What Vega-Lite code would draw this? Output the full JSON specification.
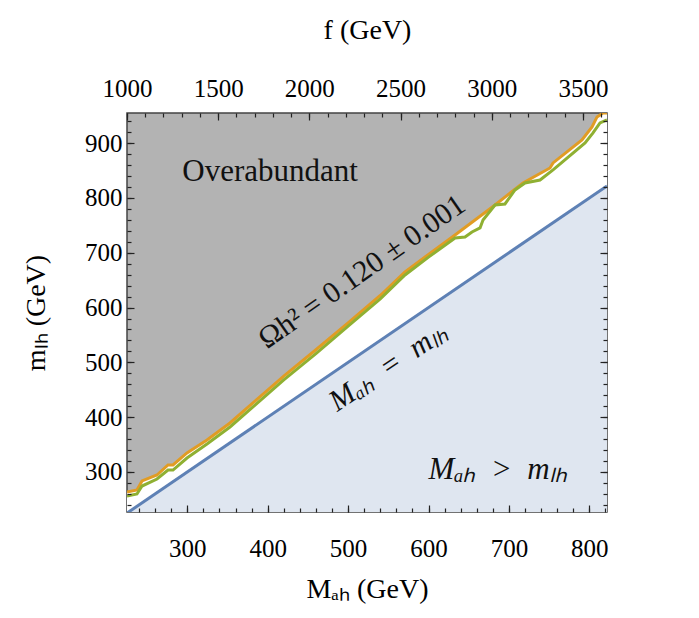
{
  "$schema": "https://vega.github.io/schema/vega-lite/v6.json",
  "width": 480,
  "height": 399,
  "autosize": "none",
  "padding": {"left": 127, "top": 113, "right": 92, "bottom": 106},
  "background": "white",
  "config": {
    "view": {"fill": "#b3b3b3", "stroke": "#444444", "strokeWidth": 1.5},
    "axis": {"grid": false, "domain": false, "ticks": true, "zindex": 3, "labelFlush": false, "format": "d", "tickColor": "#222222", "tickOpacity": 1, "tickWidth": 1.2, "labelFont": "Liberation Serif", "labelFontSize": 25, "labelColor": "#000000", "titleFont": "Liberation Serif", "titleFontSize": 28, "titleFontWeight": "normal", "titleColor": "#000000"}
  },
  "datasets": {
    "orange": [
      {"M": 225, "m": 263.5}, {"M": 237.4, "m": 267.1}, {"M": 243.7, "m": 283.6}, {"M": 262.3, "m": 294.5},
      {"M": 276.0, "m": 312.8}, {"M": 282.2, "m": 312.8}, {"M": 299.6, "m": 334.7}, {"M": 324.5, "m": 358.4},
      {"M": 353.1, "m": 389.4}, {"M": 381.7, "m": 425.9}, {"M": 420, "m": 475}, {"M": 460, "m": 523},
      {"M": 500, "m": 572}, {"M": 540, "m": 622}, {"M": 570.8, "m": 665.0}, {"M": 600, "m": 697},
      {"M": 633.0, "m": 732.5}, {"M": 682.7, "m": 787.2}, {"M": 717.5, "m": 827.4}, {"M": 751.1, "m": 854.7},
      {"M": 754.9, "m": 863.9}, {"M": 790.9, "m": 905.8}, {"M": 803.4, "m": 929.6}, {"M": 809.6, "m": 947.8},
      {"M": 817.0, "m": 955}, {"M": 822, "m": 955}
    ],
    "green": [
      {"M": 225, "m": 256.2}, {"M": 237.4, "m": 259.8}, {"M": 243.7, "m": 274.4}, {"M": 262.3, "m": 287.2},
      {"M": 276.0, "m": 303.6}, {"M": 282.2, "m": 303.6}, {"M": 299.6, "m": 325.5}, {"M": 324.5, "m": 351.1},
      {"M": 353.1, "m": 382.1}, {"M": 381.7, "m": 418.6}, {"M": 420, "m": 468}, {"M": 460, "m": 516},
      {"M": 500, "m": 566}, {"M": 540, "m": 616}, {"M": 570.8, "m": 659.5}, {"M": 600, "m": 692},
      {"M": 633.0, "m": 727.0}, {"M": 645.4, "m": 728.8}, {"M": 654.1, "m": 738.0}, {"M": 664.1, "m": 745.3},
      {"M": 667.8, "m": 759.8}, {"M": 682.7, "m": 787.2}, {"M": 695.1, "m": 789.0}, {"M": 707.6, "m": 814.6},
      {"M": 720.0, "m": 827.4}, {"M": 738.7, "m": 832.8}, {"M": 754.9, "m": 851.1}, {"M": 794.7, "m": 900.4},
      {"M": 804.6, "m": 918.6}, {"M": 813.3, "m": 936.9}, {"M": 822, "m": 942.3}
    ],
    "diag": [{"M": 225, "m": 225}, {"M": 822, "m": 822}],
    "fscale": [{"f": 1000}, {"f": 3632}],
    "notes": [
      {"M": 402.9, "m": 847, "label": "Overabundant", "kind": "over"},
      {"M": 517.3, "m": 665, "label": "Ωh² = 0.120 ± 0.001", "kind": "omega"},
      {"M": 549.6, "m": 491.6, "label": "Mₐₕ\u2002=\u2002mₗₕ", "kind": "eq"},
      {"M": 686, "m": 303.6, "label": "Mₐₕ\u2002>\u2002mₗₕ", "kind": "gt"}
    ]
  },
  "resolve": {"scale": {"x": "independent", "y": "independent"}},
  "layer": [
    {
      "data": {"name": "orange"},
      "mark": {"type": "area", "color": "white", "clip": true},
      "encoding": {
        "x": {"field": "M", "type": "quantitative", "scale": {"domain": [225, 822], "nice": false, "zero": false},
          "axis": {"orient": "bottom", "tickCount": 6, "ticks": true, "zindex": 3, "offset": -7, "tickSize": 7, "labelPadding": 24, "title": "Mₐₕ (GeV)", "titlePadding": 14}},
        "y": {"field": "m", "type": "quantitative", "scale": {"domain": [227, 955], "nice": false, "zero": false},
          "axis": {"orient": "left", "tickCount": 7, "ticks": true, "zindex": 3, "tickSize": -7, "labelPadding": 12, "title": "mₗₕ (GeV)", "titlePadding": 34}}
      }
    },
    {
      "data": {"name": "diag"},
      "mark": {"type": "area", "color": "#dfe6f0", "clip": true},
      "encoding": {
        "x": {"field": "M", "type": "quantitative", "scale": {"domain": [225, 822], "nice": false, "zero": false},
          "axis": {"orient": "bottom", "tickCount": 30, "ticks": true, "zindex": 3, "offset": -4, "tickSize": 4, "labels": false, "title": null}},
        "y": {"field": "m", "type": "quantitative", "scale": {"domain": [227, 955], "nice": false, "zero": false},
          "axis": {"orient": "left", "tickCount": 36, "ticks": true, "zindex": 3, "tickSize": -4, "labels": false, "title": null}}
      }
    },
    {
      "data": {"name": "diag"},
      "mark": {"type": "line", "color": "#5e81b5", "strokeWidth": 3, "clip": true},
      "encoding": {
        "x": {"field": "M", "type": "quantitative", "scale": {"domain": [225, 822], "nice": false, "zero": false}, "axis": null},
        "y": {"field": "m", "type": "quantitative", "scale": {"domain": [227, 955], "nice": false, "zero": false},
          "axis": {"orient": "right", "tickCount": 7, "ticks": true, "zindex": 3, "offset": -7, "tickSize": 7, "labels": false, "title": null}}
      }
    },
    {
      "data": {"name": "orange"},
      "mark": {"type": "line", "color": "#e19c24", "strokeWidth": 3, "clip": true},
      "encoding": {
        "x": {"field": "M", "type": "quantitative", "scale": {"domain": [225, 822], "nice": false, "zero": false}, "axis": null},
        "y": {"field": "m", "type": "quantitative", "scale": {"domain": [227, 955], "nice": false, "zero": false},
          "axis": {"orient": "right", "tickCount": 36, "ticks": true, "zindex": 3, "offset": -4, "tickSize": 4, "labels": false, "title": null}}
      }
    },
    {
      "data": {"name": "green"},
      "mark": {"type": "line", "color": "#8fb032", "strokeWidth": 3, "clip": true},
      "encoding": {
        "x": {"field": "M", "type": "quantitative", "scale": {"domain": [225, 822], "nice": false, "zero": false}, "axis": null},
        "y": {"field": "m", "type": "quantitative", "scale": {"domain": [227, 955], "nice": false, "zero": false}, "axis": null}
      }
    },
    {
      "data": {"name": "fscale"},
      "mark": {"type": "point", "opacity": 0},
      "encoding": {
        "x": {"field": "f", "type": "quantitative", "scale": {"domain": [1000, 3632], "nice": false, "zero": false},
          "axis": {"orient": "top", "tickCount": 6, "ticks": true, "zindex": 3, "offset": -7, "tickSize": 7, "labelPadding": 12, "title": "f (GeV)", "titlePadding": 32}}
      }
    },
    {
      "data": {"name": "fscale"},
      "mark": {"type": "point", "opacity": 0},
      "encoding": {
        "x": {"field": "f", "type": "quantitative", "scale": {"domain": [1000, 3632], "nice": false, "zero": false},
          "axis": {"orient": "top", "tickCount": 26, "ticks": true, "zindex": 3, "offset": -4, "tickSize": 4, "labels": false, "title": null}}
      }
    },
    {
      "data": {"name": "notes"},
      "transform": [{"filter": "datum.kind == 'over'"}],
      "mark": {"type": "text", "font": "Liberation Serif", "fontSize": 31, "color": "#111111"},
      "encoding": {
        "x": {"field": "M", "type": "quantitative", "scale": {"domain": [225, 822], "nice": false, "zero": false}, "axis": null},
        "y": {"field": "m", "type": "quantitative", "scale": {"domain": [227, 955], "nice": false, "zero": false}, "axis": null},
        "text": {"field": "label"}
      }
    },
    {
      "data": {"name": "notes"},
      "transform": [{"filter": "datum.kind == 'omega'"}],
      "mark": {"type": "text", "font": "Liberation Serif", "fontSize": 30, "angle": -35, "color": "#111111"},
      "encoding": {
        "x": {"field": "M", "type": "quantitative", "scale": {"domain": [225, 822], "nice": false, "zero": false}, "axis": null},
        "y": {"field": "m", "type": "quantitative", "scale": {"domain": [227, 955], "nice": false, "zero": false}, "axis": null},
        "text": {"field": "label"}
      }
    },
    {
      "data": {"name": "notes"},
      "transform": [{"filter": "datum.kind == 'eq'"}],
      "mark": {"type": "text", "font": "Liberation Serif", "fontSize": 30, "fontStyle": "italic", "angle": -34, "color": "#111111"},
      "encoding": {
        "x": {"field": "M", "type": "quantitative", "scale": {"domain": [225, 822], "nice": false, "zero": false}, "axis": null},
        "y": {"field": "m", "type": "quantitative", "scale": {"domain": [227, 955], "nice": false, "zero": false}, "axis": null},
        "text": {"field": "label"}
      }
    },
    {
      "data": {"name": "notes"},
      "transform": [{"filter": "datum.kind == 'gt'"}],
      "mark": {"type": "text", "font": "Liberation Serif", "fontSize": 31, "fontStyle": "italic", "color": "#111111"},
      "encoding": {
        "x": {"field": "M", "type": "quantitative", "scale": {"domain": [225, 822], "nice": false, "zero": false}, "axis": null},
        "y": {"field": "m", "type": "quantitative", "scale": {"domain": [227, 955], "nice": false, "zero": false}, "axis": null},
        "text": {"field": "label"}
      }
    }
  ]
}
